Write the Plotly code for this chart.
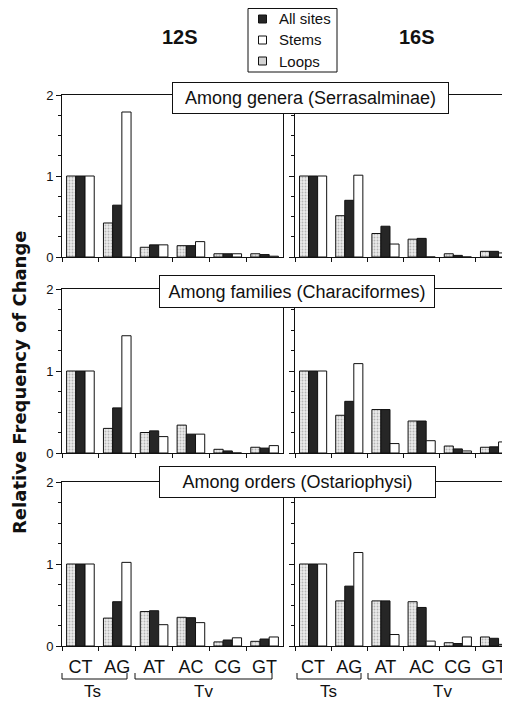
import plotly.graph_objects as go

# The page places the figure 8px from the top-left corner of the window.
OFF = 8
W, H = 510 - OFF, 704 - OFF

categories = ["CT", "AG", "AT", "AC", "CG", "GT"]
genes = ["12S", "16S"]
row_titles = ["Among genera (Serrasalminae)",
              "Among families (Characiformes)",
              "Among orders (Ostariophysi)"]
series_names = ["Loops", "All sites", "Stems"]
legend_order = ["All sites", "Stems", "Loops"]
y_ticks = [0, 1, 2]

# Row 1: among genera
genera_12s_loops = [1.0, 0.42, 0.12, 0.14, 0.04, 0.04]
genera_12s_all = [1.0, 0.64, 0.15, 0.14, 0.04, 0.03]
genera_12s_stems = [1.0, 1.79, 0.15, 0.19, 0.04, 0.01]
genera_16s_loops = [1.0, 0.51, 0.29, 0.22, 0.04, 0.07]
genera_16s_all = [1.0, 0.70, 0.38, 0.23, 0.02, 0.07]
genera_16s_stems = [1.0, 1.01, 0.16, 0.0, 0.0, 0.05]

# Row 2: among families
families_12s_loops = [1.0, 0.30, 0.25, 0.34, 0.045, 0.07]
families_12s_all = [1.0, 0.55, 0.27, 0.23, 0.025, 0.06]
families_12s_stems = [1.0, 1.43, 0.20, 0.23, 0.0, 0.09]
families_16s_loops = [1.0, 0.46, 0.53, 0.39, 0.085, 0.07]
families_16s_all = [1.0, 0.63, 0.53, 0.39, 0.05, 0.075]
families_16s_stems = [1.0, 1.09, 0.115, 0.15, 0.025, 0.135]

# Row 3: among orders
orders_12s_loops = [1.0, 0.34, 0.42, 0.35, 0.05, 0.057]
orders_12s_all = [1.0, 0.54, 0.43, 0.345, 0.073, 0.085]
orders_12s_stems = [1.0, 1.02, 0.26, 0.285, 0.10, 0.11]
orders_16s_loops = [1.0, 0.55, 0.55, 0.54, 0.04, 0.11]
orders_16s_all = [1.0, 0.73, 0.55, 0.47, 0.03, 0.094]
orders_16s_stems = [1.0, 1.14, 0.14, 0.06, 0.11, 0.02]

panels = [
    [(genera_12s_loops, genera_12s_all, genera_12s_stems),
     (genera_16s_loops, genera_16s_all, genera_16s_stems)],
    [(families_12s_loops, families_12s_all, families_12s_stems),
     (families_16s_loops, families_16s_all, families_16s_stems)],
    [(orders_12s_loops, orders_12s_all, orders_12s_stems),
     (orders_16s_loops, orders_16s_all, orders_16s_stems)],
]


def px(x):
    return (x - OFF) / W


def py(y):
    return 1 - (y - OFF) / H


FONT = "Liberation Sans, Arial, Helvetica, sans-serif"
BOLD_WIDE = "DejaVu Sans, Liberation Sans, Arial, sans-serif"
BLACK = "#111111"

col_dom = [(62, 283), (295, 508.5)]
col_range = [[-0.5, 5.5], [-0.5, 5.40]]
row_dom = [(257, 95), (453, 289), (646, 482)]  # pixel y of value 0 and value 2

styles = {
    "Loops": dict(color="#e6e6e6",
                  pattern=dict(shape=".", bgcolor="#ebebeb", fgcolor="#808080",
                               size=3, solidity=0.3)),
    "All sites": dict(color="#262626"),
    "Stems": dict(color="white"),
}

fig = go.Figure()
layout = {}

for r in range(3):
    for c in range(2):
        n = r * 2 + c + 1
        xa = "x" if n == 1 else f"x{n}"
        ya = "y" if n == 1 else f"y{n}"
        for name, vals in zip(series_names, panels[r][c]):
            marker = dict(styles[name])
            marker["line"] = dict(color=BLACK, width=1)
            fig.add_trace(go.Bar(
                x=categories, y=vals, name=name, marker=marker,
                xaxis=xa, yaxis=ya, showlegend=False, offsetgroup=name,
            ))
        xkey = "xaxis" if n == 1 else f"xaxis{n}"
        ykey = "yaxis" if n == 1 else f"yaxis{n}"
        layout[xkey] = dict(
            domain=[px(col_dom[c][0]), px(col_dom[c][1])],
            anchor=ya, type="category", range=col_range[c],
            tickson="boundaries", ticks="outside", ticklen=4,
            tickcolor=BLACK, showline=True, linecolor=BLACK, linewidth=1,
            mirror=True, showgrid=False, zeroline=False,
            showticklabels=(r == 2), ticklabelstandoff=4,
            tickfont=dict(family=FONT, size=18, color=BLACK),
            fixedrange=True, automargin=False,
        )
        layout[ykey] = dict(
            domain=[py(row_dom[r][0]), py(row_dom[r][1])],
            anchor=xa, range=[0, 2], tickvals=y_ticks,
            ticks="outside", ticklen=5, tickcolor=BLACK,
            minor=dict(dtick=0.25, ticklen=3, ticks="outside", tickcolor=BLACK),
            showline=True, linecolor=BLACK, linewidth=1, mirror=True,
            showgrid=False, zeroline=False,
            showticklabels=(c == 0),
            tickfont=dict(family=FONT, size=13, color=BLACK),
            fixedrange=True, automargin=False,
        )

annotations = []
shapes = []


def text(x, y, t, size, family=FONT, xanchor="center", angle=0, **kw):
    annotations.append(dict(x=px(x), y=py(y), xref="paper", yref="paper",
                            text=t, showarrow=False, xanchor=xanchor,
                            yanchor="middle", textangle=angle,
                            font=dict(family=family, size=size, color=BLACK),
                            **kw))


# column titles
for g, xc in zip(genes, [180, 417]):
    text(xc, 37, f"<b>{g}</b>", 20)

# row title boxes
box_geom = [(172, 449, 82, 114), (159, 435, 275, 308), (159, 436, 466, 498)]
for t, (x0, x1, y0, y1) in zip(row_titles, box_geom):
    text((x0 + x1) / 2, (y0 + y1) / 2, t, 18,
         width=x1 - x0 - 2, height=y1 - y0 - 2, bgcolor="white",
         bordercolor=BLACK, borderwidth=1, borderpad=0)

# y-axis title
text(19, 382, "<b>Relative Frequency of Change</b>", 18, family=BOLD_WIDE,
     angle=-90)

# Ts / Tv groups under the bottom axes
for lab, xc in [("Ts", 92), ("Tv", 203), ("Ts", 328), ("Tv", 442)]:
    text(xc, 691, lab, 17)
for x0, x1 in [(62, 127), (135, 272), (297, 361), (368, 507)]:
    path = (f"M{px(x0)},{py(673)} L{px(x0)},{py(679)} "
            f"L{px(x1)},{py(679)} L{px(x1)},{py(673)}")
    shapes.append(dict(type="path", xref="paper", yref="paper", path=path,
                       line=dict(color=BLACK, width=1)))

# legend
shapes.append(dict(type="rect", xref="paper", yref="paper",
                   x0=px(248), x1=px(337), y0=py(8.5), y1=py(72),
                   line=dict(color=BLACK, width=1), fillcolor="white"))
for name, yc in zip(legend_order, [19, 40, 61]):
    fill = {"All sites": "#262626", "Stems": "white", "Loops": "#d4d4d4"}[name]
    shapes.append(dict(type="rect", xref="paper", yref="paper",
                       x0=px(258.5), x1=px(266.5), y0=py(yc + 4), y1=py(yc - 4),
                       line=dict(color=BLACK, width=1), fillcolor=fill))
    text(277, yc, name, 15, xanchor="left")

fig.update_layout(
    **layout,
    width=W, height=H, autosize=False,
    margin=dict(l=0, r=0, t=0, b=0, pad=0),
    plot_bgcolor="white", paper_bgcolor="white",
    barmode="group", bargap=0.25, bargroupgap=0,
    annotations=annotations, shapes=shapes,
    showlegend=False,
    font=dict(family=FONT, color=BLACK),
)

fig.write_html("out.html")
